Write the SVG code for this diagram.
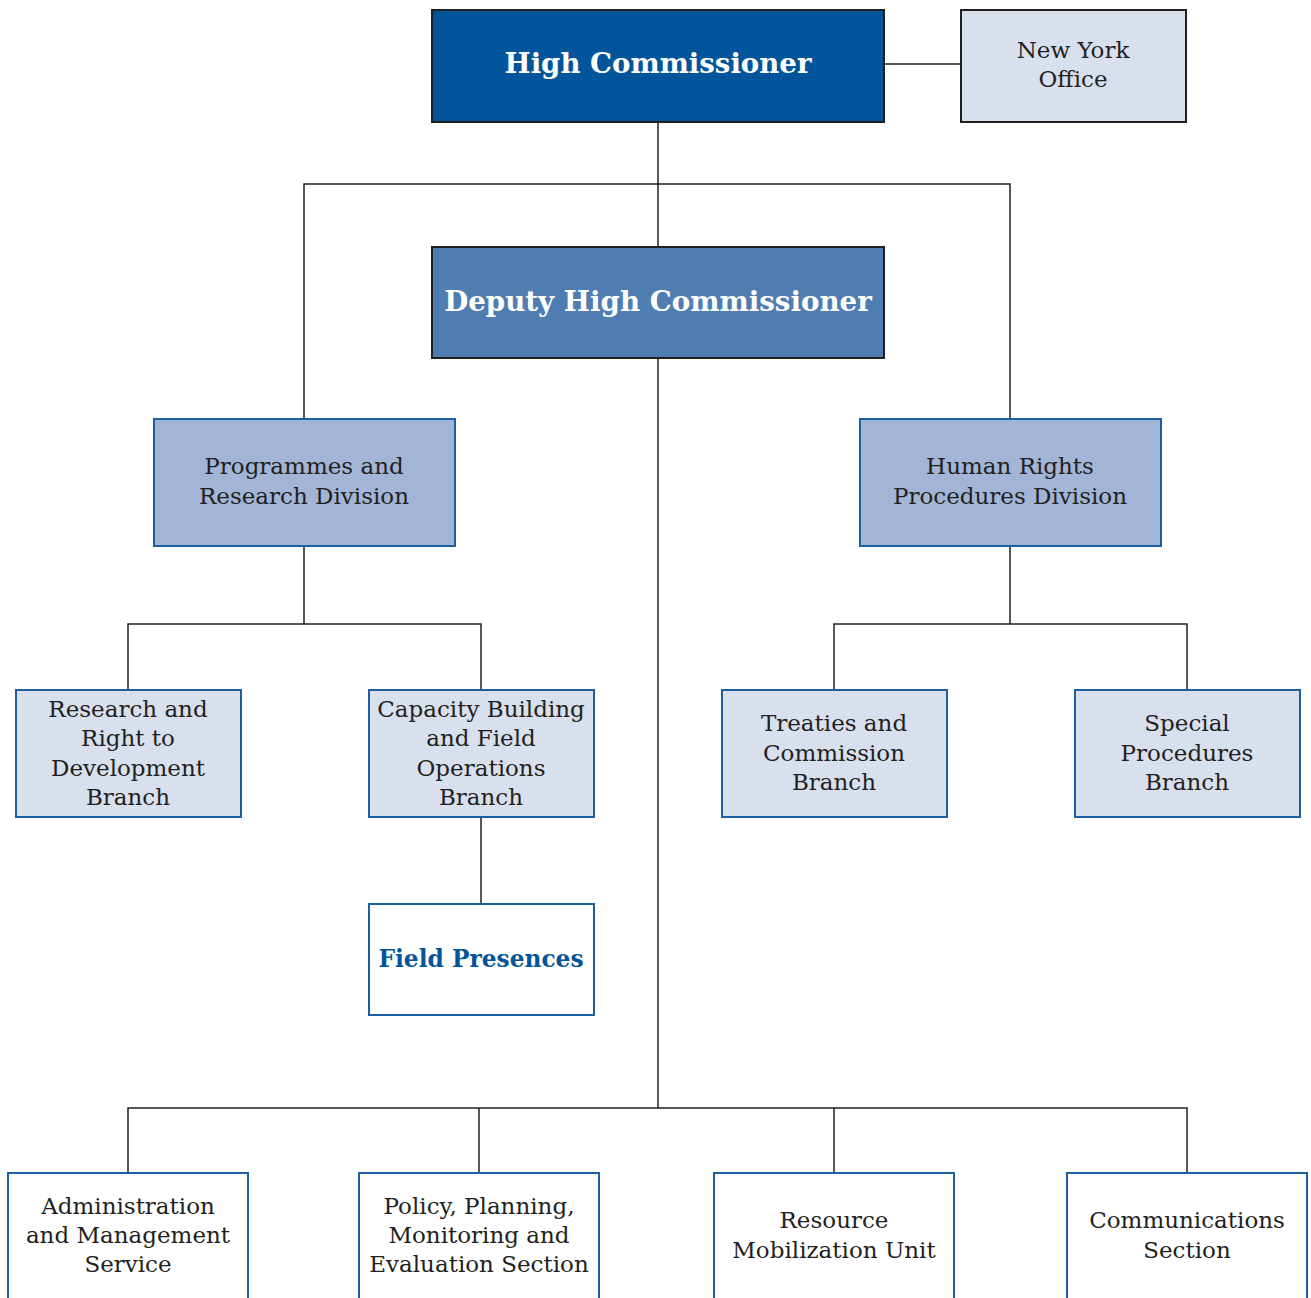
<svg xmlns="http://www.w3.org/2000/svg" width="1311" height="1298" viewBox="0 0 1311 1298">
<style>
.t{font-family:"DejaVu Serif","Liberation Serif",serif;font-size:23px;fill:#231f20;text-anchor:middle}
.b{font-family:"DejaVu Serif","Liberation Serif",serif;font-weight:bold;text-anchor:middle}
.c{fill:none;stroke:#231f20;stroke-width:1.5}
.top{stroke:#231f20;stroke-width:2}
.blu{stroke:#1d5fa0;stroke-width:2}
</style>
<rect width="1311" height="1298" fill="#ffffff"/>
<g id="connectors" class="c">
<path d="M884 64H961"/>
<path d="M658 122V247"/>
<path d="M304 419V184H1010V419"/>
<path d="M658 358V1108"/>
<path d="M304 546V624M128 690V624H481V690"/>
<path d="M481 817V904"/>
<path d="M1010 546V624M834 690V624H1187V690"/>
<path d="M128 1173V1108H1187V1173M479 1108V1173M834 1108V1173"/>
</g>
<g id="high-commissioner">
<rect x="432" y="10" width="452" height="112" fill="#02559a" class="top"/>
<text x="658" y="73" class="b" font-size="27.6" fill="#ffffff">High Commissioner</text>
</g>
<g id="new-york-office">
<rect x="961" y="10" width="225" height="112" fill="#d8e0ee" class="top"/>
<text class="t" x="1073" y="58">New York</text>
<text class="t" x="1073" y="87">Office</text>
</g>
<g id="deputy-high-commissioner">
<rect x="432" y="247" width="452" height="111" fill="#4f7db1" class="top"/>
<text x="658" y="311" class="b" font-size="27.7" fill="#ffffff">Deputy High Commissioner</text>
</g>
<g id="programmes-research">
<rect x="154" y="419" width="301" height="127" fill="#a2b5d6" class="blu"/>
<text class="t" x="304" y="474">Programmes and</text>
<text class="t" x="304" y="504">Research Division</text>
</g>
<g id="human-rights-procedures">
<rect x="860" y="419" width="301" height="127" fill="#a2b5d6" class="blu"/>
<text class="t" x="1010" y="474">Human Rights</text>
<text class="t" x="1010" y="504">Procedures Division</text>
</g>
<g id="research-rtd">
<rect x="16" y="690" width="225" height="127" fill="#d8e0ee" class="blu"/>
<text class="t" x="128" y="717">Research and</text>
<text class="t" x="128" y="746">Right to</text>
<text class="t" x="128" y="776">Development</text>
<text class="t" x="128" y="805">Branch</text>
</g>
<g id="capacity-building">
<rect x="369" y="690" width="225" height="127" fill="#d8e0ee" class="blu"/>
<text class="t" x="481" y="717">Capacity Building</text>
<text class="t" x="481" y="746">and Field</text>
<text class="t" x="481" y="776">Operations</text>
<text class="t" x="481" y="805">Branch</text>
</g>
<g id="field-presences">
<rect x="369" y="904" width="225" height="111" fill="#ffffff" class="blu"/>
<text x="481" y="967" class="b" font-size="23.3" fill="#02559a">Field Presences</text>
</g>
<g id="treaties-commission">
<rect x="722" y="690" width="225" height="127" fill="#d8e0ee" class="blu"/>
<text class="t" x="834" y="731">Treaties and</text>
<text class="t" x="834" y="761">Commission</text>
<text class="t" x="834" y="790">Branch</text>
</g>
<g id="special-procedures">
<rect x="1075" y="690" width="225" height="127" fill="#d8e0ee" class="blu"/>
<text class="t" x="1187" y="731">Special</text>
<text class="t" x="1187" y="761">Procedures</text>
<text class="t" x="1187" y="790">Branch</text>
</g>
<g id="administration-management">
<rect x="8" y="1173" width="240" height="140" fill="#ffffff" class="blu"/>
<text class="t" x="128" y="1214">Administration</text>
<text class="t" x="128" y="1243">and Management</text>
<text class="t" x="128" y="1272">Service</text>
</g>
<g id="policy-planning">
<rect x="359" y="1173" width="240" height="140" fill="#ffffff" class="blu"/>
<text class="t" x="479" y="1214">Policy, Planning,</text>
<text class="t" x="479" y="1243">Monitoring and</text>
<text class="t" x="479" y="1272">Evaluation Section</text>
</g>
<g id="resource-mobilization">
<rect x="714" y="1173" width="240" height="140" fill="#ffffff" class="blu"/>
<text class="t" x="834" y="1228">Resource</text>
<text class="t" x="834" y="1258">Mobilization Unit</text>
</g>
<g id="communications">
<rect x="1067" y="1173" width="240" height="140" fill="#ffffff" class="blu"/>
<text class="t" x="1187" y="1228">Communications</text>
<text class="t" x="1187" y="1258">Section</text>
</g>
</svg>
